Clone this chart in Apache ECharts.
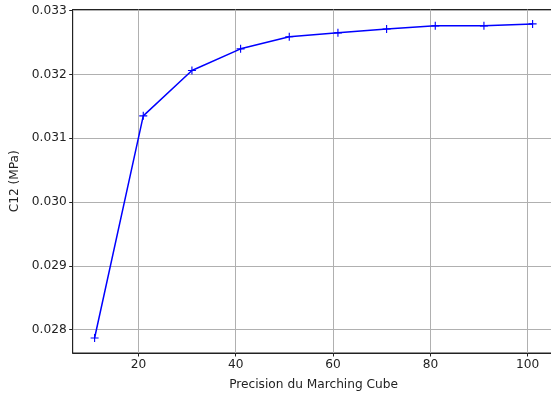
<!DOCTYPE html>
<html>
<head>
<meta charset="utf-8">
<script src="https://cdn.jsdelivr.net/npm/echarts@6/dist/echarts.min.js"></script>
<style>
  html, body { margin: 0; padding: 0; background: #fff; }
  #chart { width: 551px; height: 396px; }
</style>
</head>
<body>
<div id="chart"></div>
<script>
// data
const precision = [11, 21, 31, 41, 51, 61, 71, 81, 91, 101];
const c12 = [0.02787, 0.03135, 0.03206, 0.03240, 0.03259, 0.03265, 0.03271, 0.03276, 0.03276, 0.03279];
const xTicks = [20, 40, 60, 80, 100];
const yTicks = [0.028, 0.029, 0.030, 0.031, 0.032, 0.033];

const font = "DejaVu Sans";
const chart = echarts.init(document.getElementById("chart"));

chart.setOption({
  animation: false,
  grid: {
    left: 72.7,
    right: -3.5,
    top: 9.5,
    bottom: 43,
    outerBoundsMode: "none",
    containLabel: false,
    show: true,
    borderColor: "#222",
    borderWidth: 1,
    backgroundColor: "transparent"
  },
  xAxis: {
    type: "value",
    min: 6.5,
    max: 105.5,
    name: "Precision du Marching Cube",
    nameLocation: "middle",
    nameGap: 26,
    nameTextStyle: { fontFamily: font, fontSize: 12.2, color: "#222" },
    axisLine: { show: true, lineStyle: { color: "#222", width: 1 } },
    axisTick: { show: true, length: 3.5, lineStyle: { color: "#222" }, customValues: xTicks },
    axisLabel: {
      fontFamily: font, fontSize: 12.2, color: "#222", margin: 6,
      customValues: xTicks
    },
    splitLine: { show: true, lineStyle: { color: "#b0b0b0", width: 1 } }
  },
  yAxis: {
    type: "value",
    min: 0.027635,
    max: 0.033016,
    name: "C12 (MPa)",
    nameLocation: "middle",
    nameGap: 49,
    nameRotate: 90,
    nameTextStyle: { fontFamily: font, fontSize: 12.2, color: "#222" },
    axisLine: { show: true, lineStyle: { color: "#222", width: 1 } },
    axisTick: { show: true, length: 3.5, lineStyle: { color: "#222" }, customValues: yTicks },
    axisLabel: {
      fontFamily: font, fontSize: 12.2, color: "#222", margin: 6,
      customValues: yTicks,
      formatter: v => v.toFixed(3)
    },
    splitLine: { show: true, lineStyle: { color: "#b0b0b0", width: 1 } }
  },
  series: [{
    type: "line",
    data: precision.map((x, i) => [x, c12[i]]),
    symbol: "path://M4.3,0h1.4v4.3h4.3v1.4h-4.3v4.3h-1.4v-4.3h-4.3v-1.4h4.3z",
    symbolSize: 8,
    showSymbol: true,
    itemStyle: { color: "#0000ff" },
    lineStyle: { color: "#0000ff", width: 1.5 }
  }]
});
</script>
</body>
</html>
